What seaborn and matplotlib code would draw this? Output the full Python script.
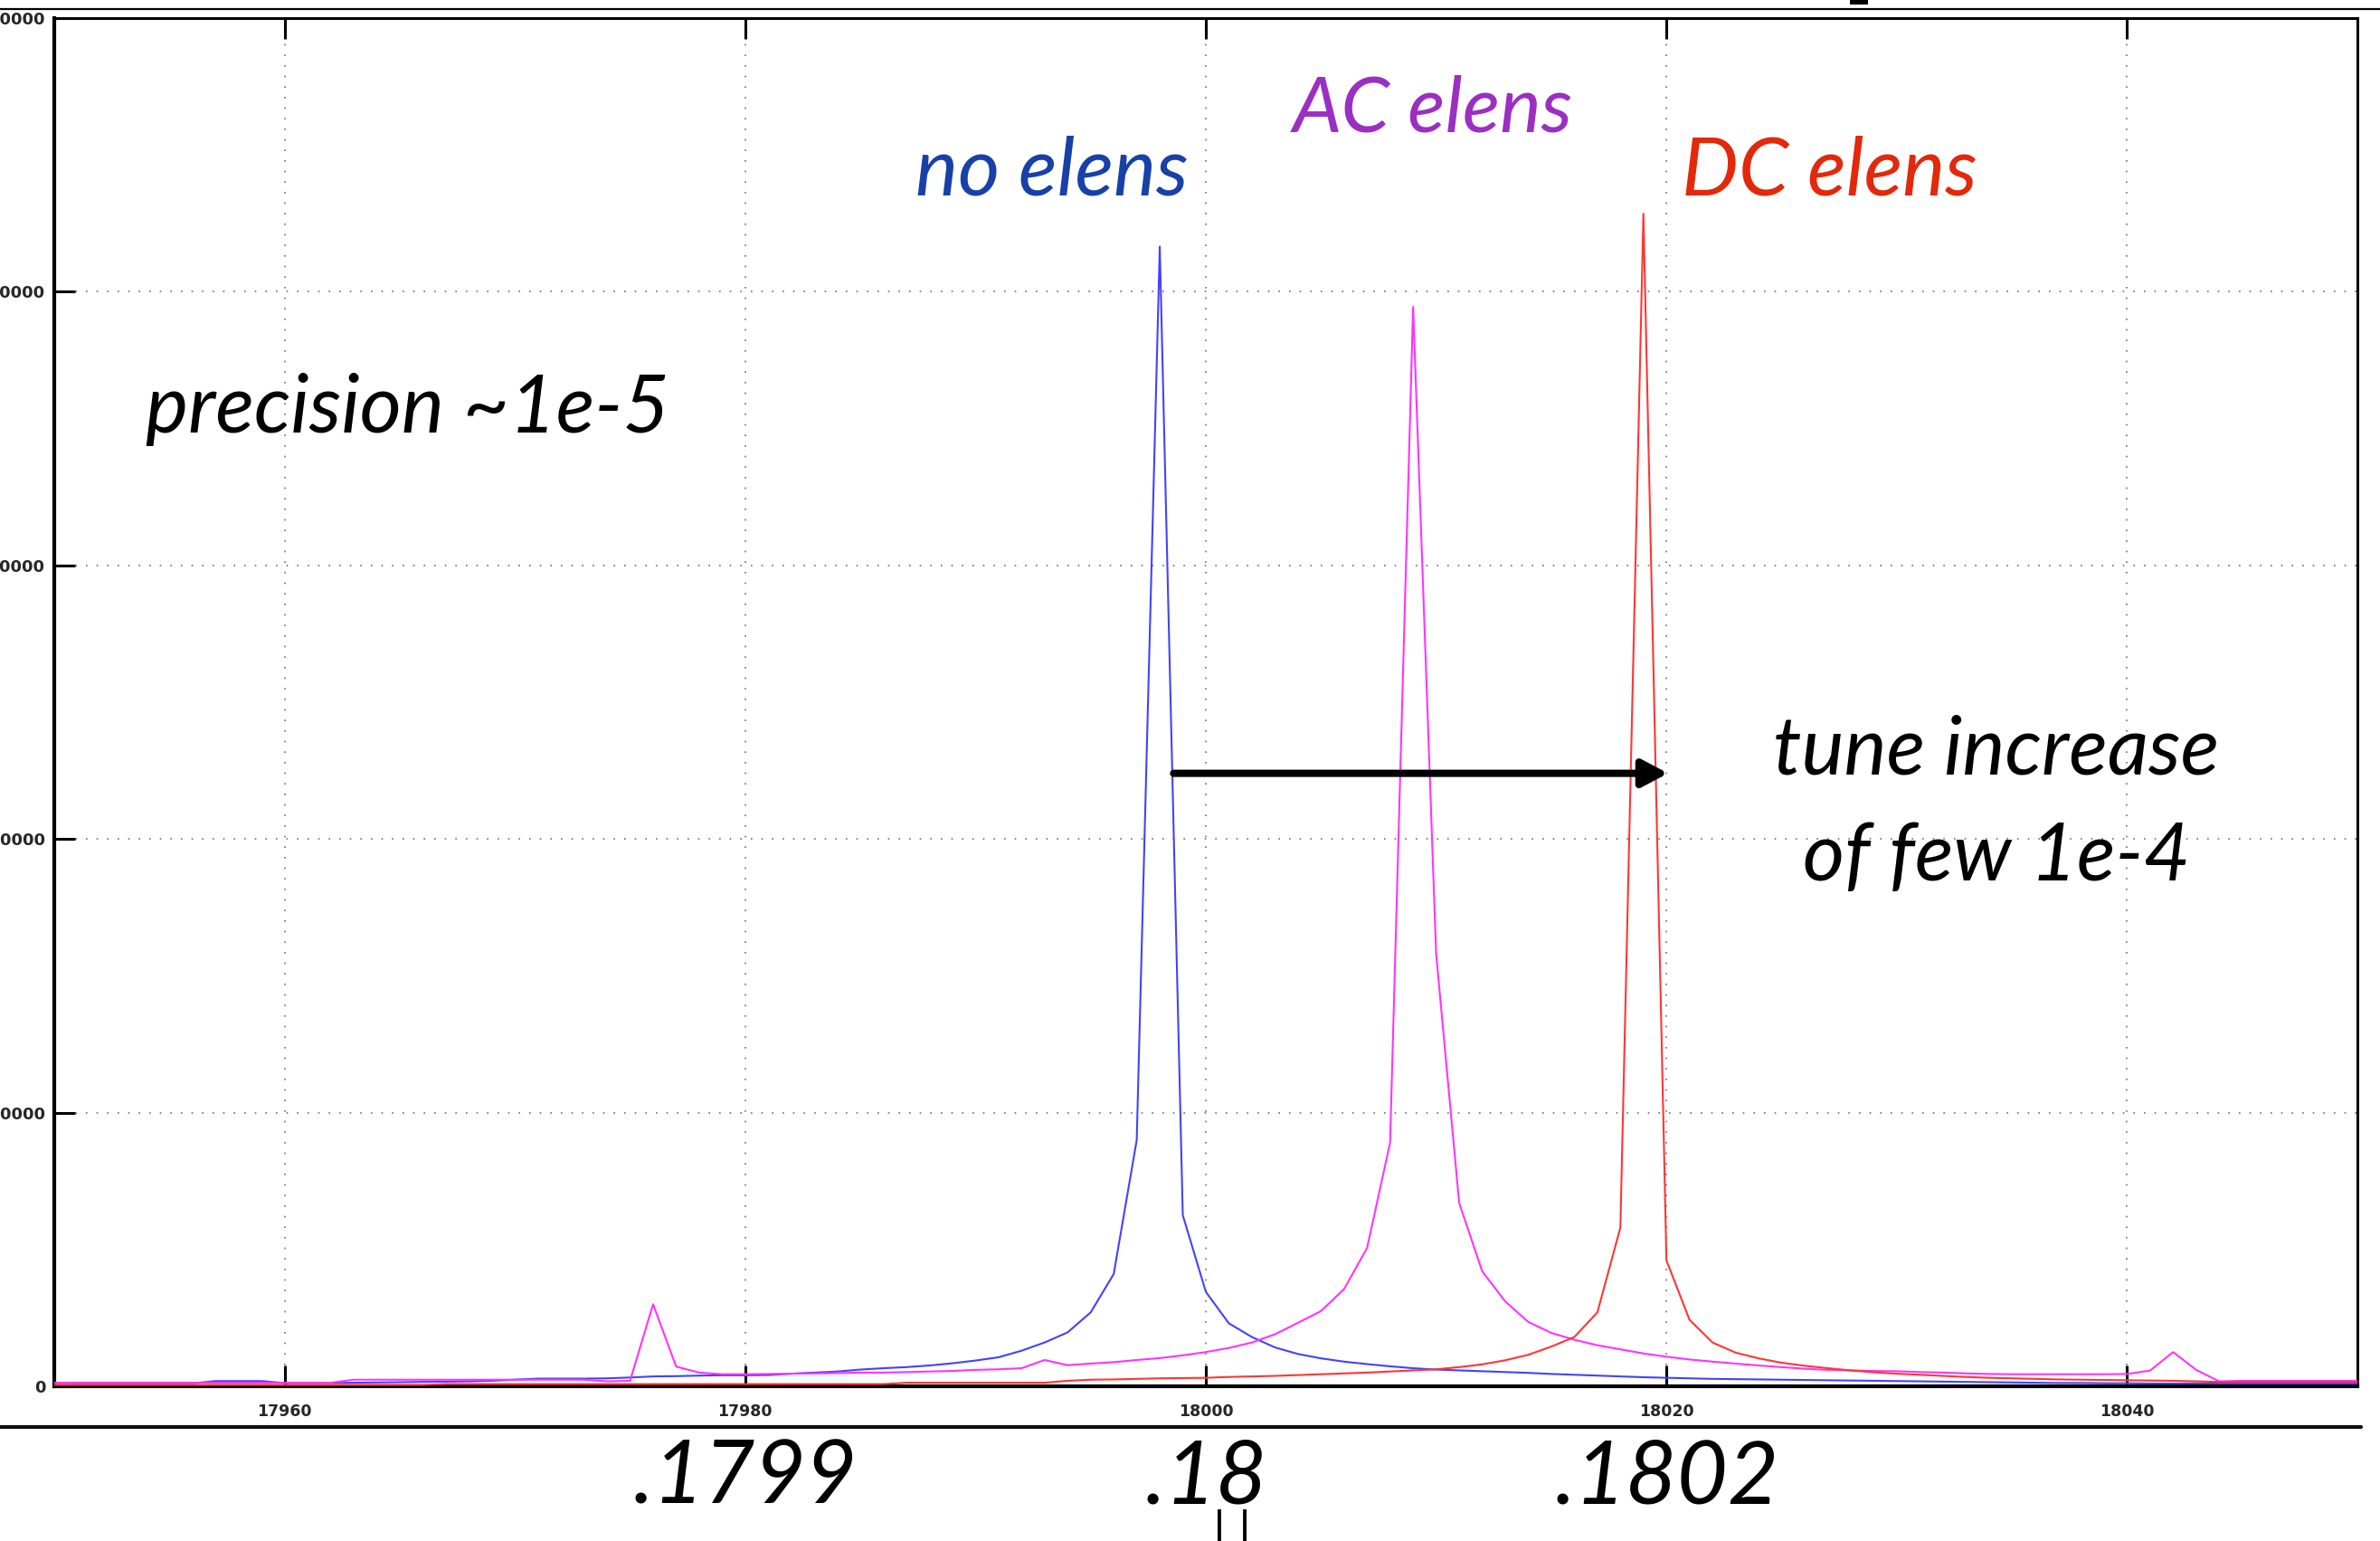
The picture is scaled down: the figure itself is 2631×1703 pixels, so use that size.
import matplotlib
matplotlib.use("Agg")
import matplotlib.pyplot as plt
from matplotlib.lines import Line2D
from matplotlib.patches import Rectangle
import numpy as np
import pandas as pd
import seaborn as sns

# Spectrum amplitude (thousands) per tune bin, 17950 .. 18050
tune = list(range(17950, 18051))

no_elens = [
    2.4, 2.2, 2.2, 2.2, 2.2, 2.2, 2.2, 3.8, 3.8, 3.8,
    2.4, 2.4, 2.4, 2.6, 2.8, 3.0, 3.2, 3.4, 3.6, 4.0,
    4.8, 5.6, 5.6, 5.6, 5.8, 6.4, 7.2, 7.4, 7.8, 8.0,
    8.0, 8.2, 9.2, 10.0, 10.8, 12.2, 13.2, 14.0, 15.2, 16.8,
    18.8, 21.2, 26.0, 32.0, 39.4, 54.0, 82.0, 180.0, 833.0, 125.0,
    69.0, 46.0, 36.0, 28.4, 23.6, 20.4, 18.0, 16.2, 14.6, 13.2,
    12.2, 11.6, 11.0, 10.4, 9.8, 9.0, 8.4, 7.8, 7.2, 6.6,
    6.2, 5.8, 5.4, 5.2, 5.0, 4.8, 4.6, 4.4, 4.2, 4.0,
    3.8, 3.6, 3.4, 3.2, 3.0, 2.8, 2.6, 2.4, 2.4, 2.2,
    2.2, 2.0, 2.0, 2.0, 2.0, 2.0, 2.0, 2.0, 2.0, 2.0,
    2.0,
]

ac_elens = [
    2.6, 2.6, 2.6, 2.6, 2.6, 2.6, 2.6, 2.6, 2.6, 2.6,
    2.6, 2.6, 2.6, 4.8, 4.8, 4.8, 4.8, 4.8, 4.8, 4.8,
    4.8, 4.8, 4.8, 4.8, 3.6, 4.0, 60.0, 14.4, 10.0, 8.8,
    8.8, 9.0, 9.2, 9.4, 9.6, 10.0, 10.0, 10.4, 10.8, 11.2,
    12.0, 12.4, 13.2, 19.2, 15.4, 16.6, 17.6, 19.2, 20.6, 22.6,
    25.0, 28.0, 32.0, 38.0, 46.4, 55.0, 71.0, 101.0, 178.0, 789.0,
    316.0, 134.0, 84.0, 62.0, 47.0, 39.0, 34.0, 30.0, 27.0, 24.0,
    21.6, 19.6, 18.0, 16.6, 15.2, 14.0, 12.8, 12.0, 11.6, 11.2,
    11.0, 10.4, 10.0, 9.4, 9.0, 8.8, 8.8, 8.8, 8.8, 8.8,
    9.0, 11.5, 25.0, 12.0, 3.6, 4.0, 4.0, 4.0, 4.0, 4.0,
    4.0,
]

dc_elens = [
    1.0, 1.0, 1.0, 1.0, 1.0, 1.0, 1.0, 1.0, 1.0, 1.0,
    1.0, 1.0, 1.0, 1.0, 1.0, 1.0, 1.0, 1.6, 1.6, 1.6,
    1.6, 1.6, 1.6, 1.6, 1.6, 1.6, 1.6, 1.6, 1.6, 1.6,
    1.6, 1.6, 1.6, 1.6, 1.6, 1.6, 1.6, 2.6, 2.6, 2.6,
    2.6, 2.6, 2.6, 2.6, 4.0, 4.8, 5.0, 5.4, 5.8, 6.0,
    6.2, 6.8, 7.2, 7.6, 8.2, 8.8, 9.4, 10.0, 10.8, 11.6,
    12.4, 14.0, 16.0, 19.0, 23.0, 29.0, 36.0, 54.0, 116.0, 857.0,
    92.0, 48.6, 32.0, 24.6, 20.4, 17.2, 15.0, 13.2, 11.6, 10.2,
    9.2, 8.4, 7.6, 6.8, 6.2, 5.8, 5.4, 5.0, 4.8, 4.6,
    4.4, 4.2, 4.0, 3.6, 3.2, 3.2, 3.2, 3.2, 3.2, 3.2,
    3.2,
]

run_names = ["no elens", "AC elens", "DC elens"]
line_colors = {"no elens": "#4242ff", "AC elens": "#ff33ff", "DC elens": "#ff3535"}
label_colors = {"no elens": "#1741a8", "AC elens": "#9b2fc2", "DC elens": "#e2290b"}

x_ticks = [17960, 17980, 18000, 18020, 18040]
y_ticks = [0, 200, 400, 600, 800, 1000]
y_tick_labels = ["0", "200000", "400000", "600000", "800000", "1000000"]
tune_labels = [".1799", ".18", ".1802"]
tune_label_pos = [17980, 18000, 18020]

df = pd.concat([
    pd.DataFrame({"tune": tune, "amplitude": vals, "run": name})
    for name, vals in zip(run_names, [no_elens, ac_elens, dc_elens])
], ignore_index=True)

sns.set_style("white")
plt.rcParams["font.family"] = ["DejaVu Sans"]

W, H = 2631, 1703
fig = plt.figure(figsize=(W / 100, H / 100), dpi=100)
ax = fig.add_axes([60 / W, 1 - 1532 / H, (2606 - 60) / W, (1532 - 20) / H])

sns.lineplot(data=df, x="tune", y="amplitude", hue="run", hue_order=run_names,
             palette=line_colors, estimator=None, sort=False, linewidth=1.5,
             legend=False, ax=ax, zorder=3)

ax.set_xlim(17950, 18050)
ax.set_ylim(0, 1000)
ax.set_xticks(x_ticks)
ax.set_xticklabels([str(t) for t in x_ticks], fontweight="bold", fontsize=12.5)
ax.set_yticks(y_ticks)
ax.set_yticklabels(y_tick_labels, fontweight="bold", fontsize=13)
ax.set_xlabel("")
ax.set_ylabel("")

ax.tick_params(axis="x", direction="in", top=True, bottom=True, length=16.5,
               width=2.2, color="black", pad=14)
ax.tick_params(axis="y", direction="in", left=True, right=False, length=16.5,
               width=2.2, color="black", pad=7)
ax.grid(True, color="#6f6f6f", linestyle=(0, (1, 6)), linewidth=1.2)
ax.set_axisbelow(True)
for side in ["left", "right", "top", "bottom"]:
    ax.spines[side].set_visible(True)
    ax.spines[side].set_color("black")
    ax.spines[side].set_linewidth(2.2)
ax.spines["left"].set_linewidth(3.0)
ax.spines["bottom"].set_linewidth(3.0)

# shift arrow from the unperturbed peak to the DC-lens peak
ax.annotate("", xy=(18020.07, 448), xytext=(17998.6, 448),
            arrowprops=dict(arrowstyle="-|>,head_length=1.7,head_width=0.9",
                            lw=5.8, color="black", shrinkA=0, shrinkB=0),
            zorder=5)

ital = dict(family=["Lato", "DejaVu Sans"], style="italic")


def fy(y):
    return 1 - y / H


for name, (cx, by), fs in zip(run_names, [(1163, 215), (1584, 146), (2022, 215)],
                              [64, 62, 64]):
    fig.text(cx / W, fy(by), name, color=label_colors[name], fontsize=fs,
             ha="center", va="baseline", **ital)

fig.text(450 / W, fy(478), "precision ~1e-5", color="black", fontsize=64,
         ha="center", va="baseline", **ital)
fig.text(2207 / W, fy(856), "tune increase", color="black", fontsize=64,
         ha="center", va="baseline", **ital)
fig.text(2207 / W, fy(973), "of few 1e-4", color="black", fontsize=64,
         ha="center", va="baseline", **ital)

# fractional tune values under the bin axis
for lab, pos in zip(tune_labels, tune_label_pos):
    xf = (60 + (pos - 17950) * 25.46) / W
    fig.text(xf, fy(1662), lab, color="black", fontsize=70,
             ha="center", va="baseline", **ital)
fig.text(1362 / W, fy(1668), "| |", color="black", fontsize=40,
         ha="center", va="top", family=["Lato", "DejaVu Sans"])

# page rules around the plot
fig.add_artist(Line2D([0, 1], [fy(10), fy(10)], color="black", lw=1.6))
fig.add_artist(Line2D([0, 2610 / W], [fy(1577), fy(1577)], color="#111111", lw=3.0))
fig.add_artist(Rectangle((2045 / W, fy(5)), 20 / W, 5 / H, color="black", lw=0))

fig.savefig("out.png", dpi=100)
